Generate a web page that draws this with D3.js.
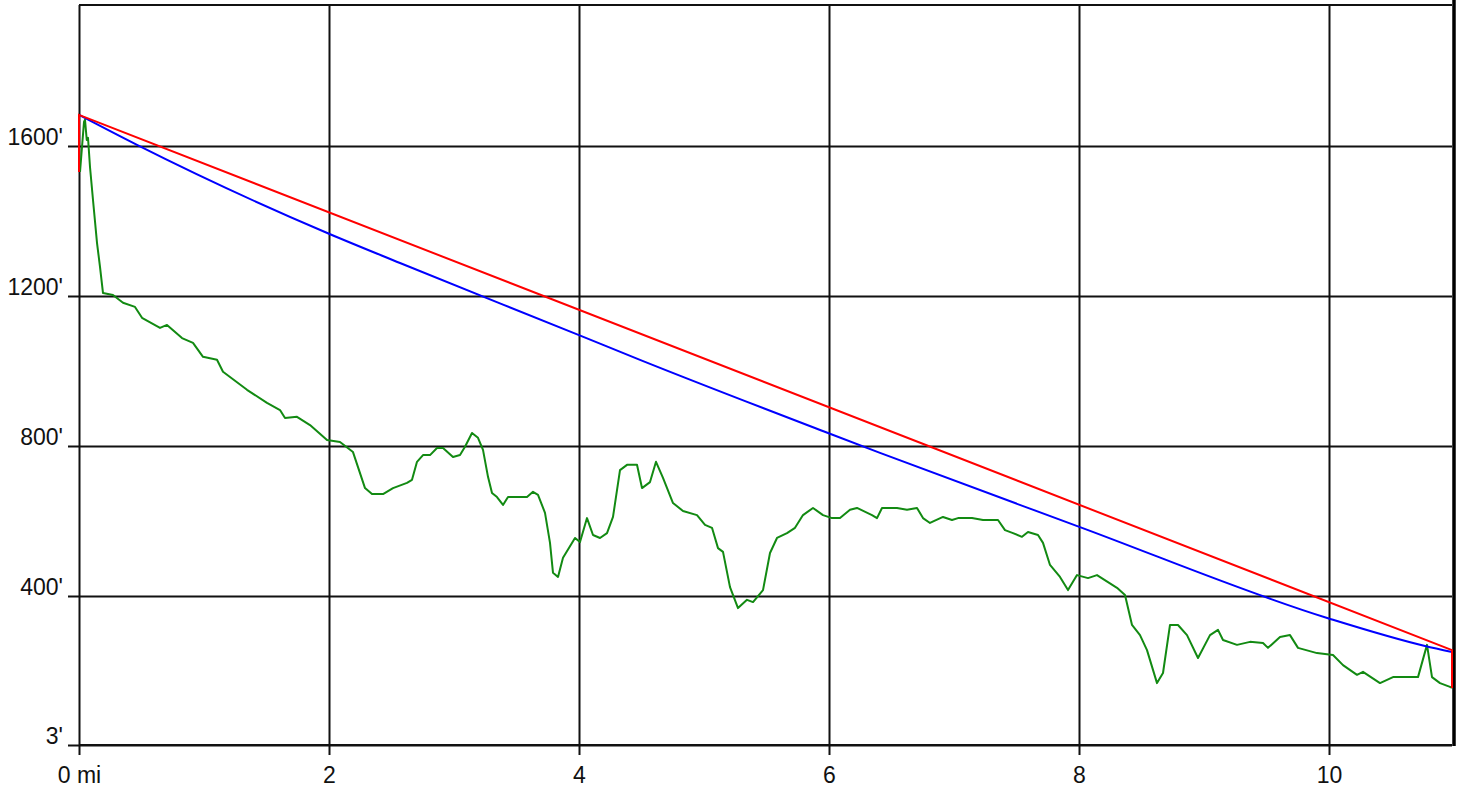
<!DOCTYPE html>
<html>
<head>
<meta charset="utf-8">
<script src="https://cdn.jsdelivr.net/npm/d3@7"></script>
<style>
  body { margin: 0; background: #fff; }
  svg { display: block; }
  .tick text { font-family: "Liberation Sans", Arial, sans-serif; font-size: 23px; fill: #111; }
</style>
</head>
<body>
<svg></svg>
<script>
// distance in miles, elevation in feet
const green = [
  [0.008, 1531], [0.04, 1664], [0.048, 1670], [0.062, 1616], [0.072, 1622], [0.088, 1544],
  [0.112, 1456], [0.144, 1342], [0.168, 1278], [0.192, 1208], [0.272, 1203], [0.352, 1182],
  [0.448, 1171], [0.504, 1142], [0.648, 1115], [0.704, 1123], [0.824, 1088], [0.912, 1075],
  [0.992, 1038], [1.104, 1030], [1.152, 998], [1.344, 950], [1.504, 915], [1.608, 896],
  [1.648, 875], [1.744, 878], [1.848, 856], [1.984, 816], [2.088, 811], [2.192, 784],
  [2.232, 744], [2.288, 688], [2.344, 672], [2.432, 672], [2.512, 688], [2.624, 702],
  [2.664, 710], [2.704, 758], [2.752, 776], [2.808, 776], [2.864, 795], [2.912, 795],
  [2.992, 771], [3.048, 776], [3.088, 798], [3.144, 835], [3.192, 822], [3.232, 790],
  [3.272, 718], [3.304, 675], [3.344, 664], [3.392, 643], [3.432, 664], [3.584, 664],
  [3.632, 678], [3.672, 670], [3.728, 622], [3.768, 542], [3.792, 462], [3.832, 451],
  [3.872, 502], [3.968, 555], [4.008, 544], [4.064, 608], [4.112, 563], [4.168, 555],
  [4.224, 568], [4.272, 611], [4.328, 736], [4.384, 750], [4.464, 750], [4.504, 688],
  [4.568, 704], [4.616, 758], [4.672, 715], [4.752, 648], [4.832, 627], [4.944, 616],
  [5.008, 590], [5.064, 582], [5.112, 528], [5.152, 518], [5.208, 424], [5.272, 368],
  [5.344, 390], [5.392, 384], [5.472, 416], [5.528, 515], [5.584, 555], [5.664, 568],
  [5.728, 582], [5.792, 616], [5.872, 635], [5.952, 616], [6.024, 608], [6.088, 608],
  [6.168, 630], [6.224, 635], [6.344, 616], [6.384, 608], [6.424, 635], [6.544, 635],
  [6.624, 630], [6.704, 635], [6.752, 608], [6.808, 595], [6.912, 611], [6.984, 603],
  [7.032, 608], [7.144, 608], [7.232, 603], [7.352, 603], [7.408, 576], [7.472, 568],
  [7.544, 558], [7.592, 571], [7.672, 563], [7.712, 542], [7.768, 483], [7.848, 451],
  [7.912, 416], [7.984, 456], [8.072, 448], [8.144, 456], [8.304, 422], [8.368, 403],
  [8.424, 323], [8.488, 296], [8.544, 256], [8.624, 168], [8.672, 195], [8.728, 323],
  [8.792, 323], [8.864, 296], [8.952, 235], [9.048, 296], [9.112, 310], [9.152, 283],
  [9.264, 270], [9.368, 278], [9.472, 275], [9.512, 262], [9.608, 291], [9.688, 296],
  [9.752, 262], [9.904, 248], [10.032, 243], [10.112, 216], [10.224, 190], [10.272, 198],
  [10.408, 168], [10.512, 184], [10.712, 184], [10.784, 270], [10.824, 184], [10.888, 168],
  [10.968, 158], [10.984, 155]
];
const blue = [
  [0, 1683], [0.464, 1603], [2, 1366], [2.568, 1288], [4, 1096], [4.488, 1030],
  [5.992, 835], [6.408, 782], [8.008, 584], [9.992, 341], [10.768, 267], [10.984, 251]
];
const red = [[0, 1531], [0, 1683], [10.984, 256], [10.984, 155]];

const xTicks = [0, 2, 4, 6, 8, 10];
const xLabels = ["0 mi", "2", "4", "6", "8", "10"];
const yTicks = [3, 400, 800, 1200, 1600];
const yLabels = ["3'", "400'", "800'", "1200'", "1600'"];

const W = 1459, H = 791;
const plotL = 79, plotR = 1452, plotT = 5, plotB = 745;

const svg = d3.select("svg").attr("width", W).attr("height", H);

const x = d3.scaleLinear().domain([0, 10.984]).range([plotL, plotR]);
const y = d3.scaleLinear().domain([3, 1976]).range([plotB, plotT]);

// vertical grid + x labels
const xAxis = svg.append("g")
  .attr("transform", `translate(0,${plotB + 10})`)
  .call(d3.axisBottom(x)
    .tickValues(xTicks)
    .tickSize(-(plotB + 10 - plotT))
    .tickPadding(12)
    .tickFormat((d, i) => xLabels[i]));
xAxis.select(".domain").remove();
xAxis.selectAll(".tick line").attr("stroke", "#111").attr("stroke-width", 2);

// horizontal grid + y labels
const yAxis = svg.append("g")
  .attr("transform", `translate(${plotL - 11},0)`)
  .call(d3.axisLeft(y)
    .tickValues(yTicks)
    .tickSize(-(plotR - plotL + 11))
    .tickPadding(5)
    .tickFormat((d, i) => yLabels[i]));
yAxis.select(".domain").remove();
yAxis.selectAll(".tick line").attr("stroke", "#111").attr("stroke-width", 2);
yAxis.selectAll(".tick text").attr("dy", "-0.06em");

// border
svg.append("line").attr("x1", plotL).attr("x2", plotR).attr("y1", plotT).attr("y2", plotT)
  .attr("stroke", "#111").attr("stroke-width", 2);
svg.append("line").attr("x1", plotL).attr("x2", plotR).attr("y1", plotB).attr("y2", plotB)
  .attr("stroke", "#111").attr("stroke-width", 2);
svg.append("line").attr("x1", plotR + 2).attr("x2", plotR + 2).attr("y1", 0).attr("y2", plotB + 1)
  .attr("stroke", "#000").attr("stroke-width", 3.5);

const line = d3.line().x(d => x(d[0])).y(d => y(d[1]));
const smooth = d3.line().x(d => x(d[0])).y(d => y(d[1])).curve(d3.curveMonotoneX);

svg.append("path").datum(green).attr("d", line)
  .attr("fill", "none").attr("stroke", "#128a12").attr("stroke-width", 2).attr("stroke-linejoin", "round");
svg.append("path").datum(blue).attr("d", smooth)
  .attr("fill", "none").attr("stroke", "#0000ff").attr("stroke-width", 2);
svg.append("path").datum(red).attr("d", line)
  .attr("fill", "none").attr("stroke", "#ff0000").attr("stroke-width", 2);
</script>
</body>
</html>
